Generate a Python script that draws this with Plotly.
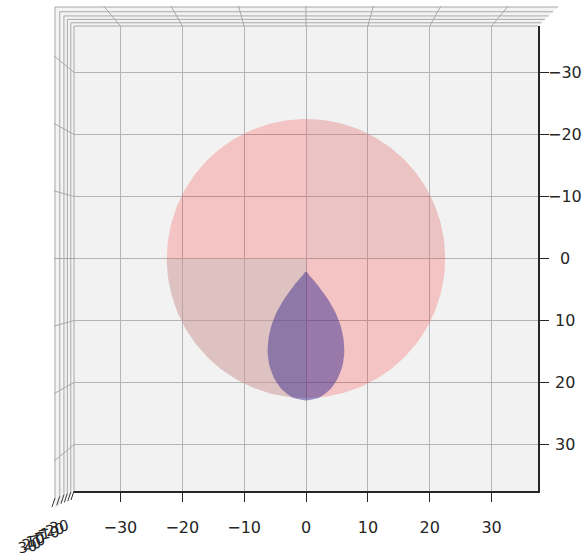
import numpy as np
import plotly.graph_objects as go

# ---- data ----
axis_ticks = [-30, -20, -10, 0, 10, 20, 30]
axis_tick_labels = ["\u221230", "\u221220", "\u221210", "0", "10", "20", "30"]
axis_range = [-37.5, 37.5]

sphere_center = (0.0, 0.0)
sphere_radius = 22.5

# teardrop outline (right half), mirrored about x = 0
tear_y = [2.1, 2.8, 4.3, 6.5, 8.6, 10.7, 12.9, 15.1, 17.3, 19.4, 21.0, 22.4, 22.9]
tear_halfwidth = [0.0, 0.6, 1.9, 3.5, 4.7, 5.55, 6.05, 6.2, 5.9, 5.1, 4.0, 2.2, 0.0]

# ---- figure geometry ----
W, H = 586, 558
L, R, T, B = 74, 48, 26, 67
PW, PH = W - L - R, H - T - B

def px(xp):
    return (xp - L) / PW

def py(yp):
    return 1 - (yp - T) / PH

fig = go.Figure()

# sphere (top view) as a disc, with shaded quadrants
th = np.linspace(0, 2 * np.pi, 241)
cx, cy = sphere_center
fig.add_trace(go.Scatter(
    x=cx + sphere_radius * np.cos(th), y=cy + sphere_radius * np.sin(th),
    fill="toself", fillcolor="rgba(255,0,0,0.19)", mode="lines",
    line=dict(width=0), hoverinfo="skip", showlegend=False))

def quarter(a0, a1, color):
    t = np.linspace(a0, a1, 61)
    xs = np.concatenate([[cx], cx + sphere_radius * np.cos(t), [cx]])
    ys = np.concatenate([[cy], cy + sphere_radius * np.sin(t), [cy]])
    fig.add_trace(go.Scatter(x=xs, y=ys, fill="toself", fillcolor=color,
                             mode="lines", line=dict(width=0),
                             hoverinfo="skip", showlegend=False))

# y axis reversed: positive y is drawn downward
quarter(np.pi / 2, np.pi, "rgba(190,190,190,0.42)")      # lower-left on screen
quarter(-np.pi / 2, 0, "rgba(190,190,190,0.16)")          # upper-right on screen

# teardrop
tx = list(tear_halfwidth) + [-v for v in tear_halfwidth[::-1]]
ty = list(tear_y) + list(tear_y[::-1])
fig.add_trace(go.Scatter(
    x=tx, y=ty, fill="toself", fillcolor="rgba(55,40,140,0.48)",
    mode="lines", line=dict(width=0, shape="spline", smoothing=0.6),
    hoverinfo="skip", showlegend=False))

# ---- 3D-box decorations (matplotlib style panes) ----
shapes = []
frame_t = [0.0, 0.17, 0.35, 0.53, 0.75, 1.0]
grey = "#a8a8a8"
outer = dict(l=55, t=7, r=558, b=510)
inner = dict(l=74, t=26, r=538, b=491)

def frame(t):
    return dict(l=inner["l"] + (outer["l"] - inner["l"]) * t,
                t=inner["t"] + (outer["t"] - inner["t"]) * t,
                r=inner["r"] + (outer["r"] - inner["r"]) * t,
                b=inner["b"] + (outer["b"] - inner["b"]) * t)

# strip fill
path = (f"M {px(outer['l'])},{py(outer['b'])} L {px(outer['l'])},{py(outer['t'])} "
        f"L {px(outer['r'])},{py(outer['t'])} L {px(inner['r'])},{py(inner['t'])} "
        f"L {px(inner['l'])},{py(inner['t'])} L {px(inner['l'])},{py(inner['b'])} Z")
shapes.append(dict(type="path", path=path, xref="paper", yref="paper",
                   fillcolor="#f3f3f3", line=dict(width=0), layer="below"))

for t in frame_t:
    f = frame(t)
    shapes.append(dict(type="line", xref="paper", yref="paper",
                       x0=px(f["l"]), y0=py(f["t"]), x1=px(f["r"]), y1=py(f["t"]),
                       line=dict(color=grey, width=1)))
    shapes.append(dict(type="line", xref="paper", yref="paper",
                       x0=px(f["l"]), y0=py(f["t"]), x1=px(f["l"]), y1=py(f["b"] - 12 * t),
                       line=dict(color=grey, width=1)))
    # small z tick at the foot of each line
    bx, by = f["l"], f["b"] - 12 * t
    shapes.append(dict(type="line", xref="paper", yref="paper",
                       x0=px(bx), y0=py(by), x1=px(bx - 3), y1=py(by + 9),
                       line=dict(color="#333333", width=1)))

# perspective grid continuation on top / left panes
xc, yc = 307, 258.5
for v in axis_ticks:
    gx = L + (v - axis_range[0]) / (axis_range[1] - axis_range[0]) * PW
    shapes.append(dict(type="line", xref="paper", yref="paper",
                       x0=px(gx), y0=py(inner["t"]), x1=px(gx + 0.09 * (gx - xc)), y1=py(6),
                       line=dict(color=grey, width=1)))
    gy = T + (v - axis_range[0]) / (axis_range[1] - axis_range[0]) * PH
    shapes.append(dict(type="line", xref="paper", yref="paper",
                       x0=px(inner["l"]), y0=py(gy), x1=px(54), y1=py(gy + 0.09 * (gy - yc)),
                       line=dict(color=grey, width=1)))

annotations = []
# right-hand axis tick labels, centred like matplotlib's 3D axis
for v, lab in zip(axis_ticks, axis_tick_labels):
    annotations.append(dict(x=px(565), xref="paper", y=v, yref="y", text=lab,
                            showarrow=False, xanchor="center", yanchor="middle",
                            font=dict(family="DejaVu Sans", size=16, color="#262626")))
# cluttered z-axis labels (seen end-on)
for i, lab in enumerate(axis_tick_labels[::-1]):
    k = i / (len(axis_tick_labels) - 1)
    annotations.append(dict(x=px(27 + 26 * k), xref="paper", y=py(547 - 19 * k), yref="paper",
                            text=lab, showarrow=False, xanchor="center", yanchor="middle",
                            textangle=-10,
                            font=dict(family="DejaVu Sans", size=15, color="#262626")))

fig.update_layout(
    width=W, height=H, margin=dict(l=L, r=R, t=T, b=B),
    paper_bgcolor="white", plot_bgcolor="#f2f2f2",
    shapes=shapes, annotations=annotations, showlegend=False,
    font=dict(family="DejaVu Sans", size=16, color="#262626"),
)
fig.update_xaxes(range=axis_range, tickvals=axis_ticks, ticktext=axis_tick_labels,
                 showgrid=True, gridcolor="#b4b4b4", gridwidth=1.2, zeroline=False,
                 showline=True, linecolor="#262626", linewidth=1.5,
                 ticks="outside", ticklen=9, tickcolor="#262626", tickwidth=1.3,
                 ticklabelstandoff=12, tickfont=dict(size=16))
fig.update_yaxes(range=axis_range[::-1], tickvals=axis_ticks, showticklabels=False,
                 side="right", showgrid=True, gridcolor="#b4b4b4", gridwidth=1.2,
                 zeroline=False, showline=True, linecolor="#262626", linewidth=1.5,
                 ticks="outside", ticklen=9, tickcolor="#262626", tickwidth=1.3)

fig.write_html("out.html")
